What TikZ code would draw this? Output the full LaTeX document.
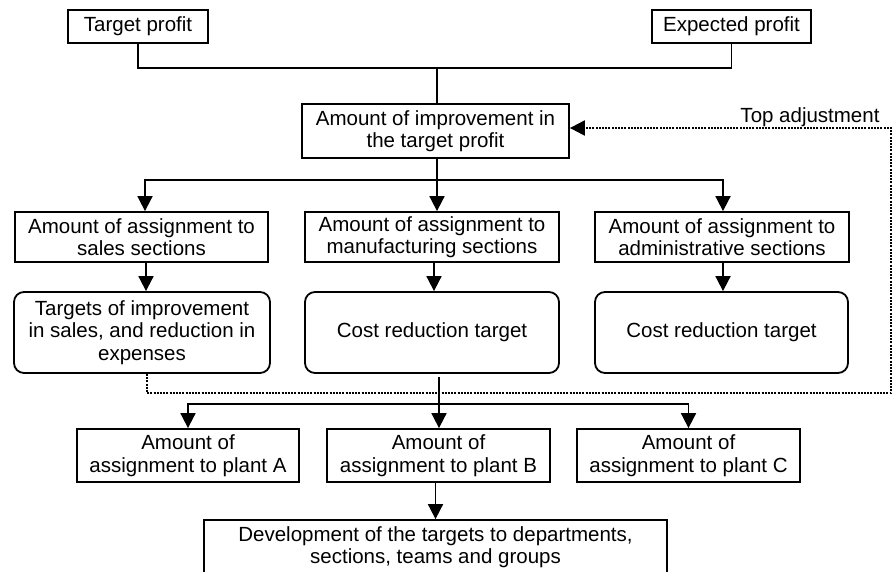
\documentclass[tikz,border=0pt]{standalone}
\usepackage{fontspec}
\setmainfont{Liberation Sans}
\usetikzlibrary{arrows.meta}
\begin{document}
\begin{tikzpicture}[x=1pt,y=-1pt,
  every node/.style={font=\fontsize{20.5pt}{22.5pt}\selectfont, align=center, inner sep=0pt},
  box/.style={draw, line width=1.8pt},
  rbox/.style={draw, line width=1.8pt, rounded corners=10pt},
  conn/.style={line width=1.8pt},
  arr/.style={line width=1.8pt, -{Triangle[length=15pt,width=15pt]}},
  fb/.style={line width=2.2pt, dash pattern=on 2pt off 1.2pt, -{Triangle[length=15pt,width=15pt]}}
]
\clip (0,0) rectangle (894,571);
\fill[white] (0,0) rectangle (894,571);

% top row
\node[box, minimum width=140pt, minimum height=33pt] (tp) at (138,26.5) {Target profit};
\node[box, minimum width=159pt, minimum height=33pt] (ep) at (731.5,26.5) {Expected profit};
\node[box, minimum width=267pt, minimum height=54pt] (imp) at (435.5,131) {Amount of improvement in\\the target profit};
\node[anchor=base] (ta) at (810,122) {Top adjustment};

% second row
\node[box, minimum width=253pt, minimum height=50pt] (sales) at (141.5,237) {Amount of assignment to\\sales sections};
\node[box, minimum width=254pt, minimum height=50pt] (mfg) at (432,237) {Amount of assignment to\\manufacturing sections};
\node[box, minimum width=254pt, minimum height=50pt] (adm) at (722,237) {Amount of assignment to\\administrative sections};

% third row
\node[rbox, minimum width=256pt, minimum height=81pt] (tsales) at (142,332.5) {Targets of improvement\\in sales, and reduction in\\expenses};
\node[rbox, minimum width=254pt, minimum height=81pt] (tmfg) at (432,332.5) {Cost reduction target};
\node[rbox, minimum width=253pt, minimum height=81pt] (tadm) at (721.5,332.5) {Cost reduction target};

% plants
\node[box, minimum width=222pt, minimum height=53pt] (pa) at (188,455.5) {Amount of\\assignment to plant A};
\node[box, minimum width=223pt, minimum height=53pt] (pb) at (438.5,455.5) {Amount of\\assignment to plant B};
\node[box, minimum width=223pt, minimum height=53pt] (pc) at (688.5,455.5) {Amount of\\assignment to plant C};

% bottom
\node[box, minimum width=463pt, minimum height=54pt] (dev) at (435.5,547) {Development of the targets to departments,\\sections, teams and groups};

% connectors top
\coordinate (j1) at (437,68);
\draw[conn] (tp.south) |- (j1) -| (ep.south);
\draw[conn] (j1) -- (j1 |- imp.north);

\coordinate (j2) at (437,180);
\coordinate (a1) at (145,180);
\coordinate (a3) at (723,180);
\draw[conn] (imp.south -| j2) -- (j2);
\draw[arr] (j2) -- (j2 |- mfg.north);
\draw[arr] (j2) -- (a1) -- (a1 |- sales.north);
\draw[arr] (j2) -- (a3) -- (a3 |- adm.north);

% row2 -> row3
\draw[arr] ([xshift=4.5pt]sales.south) -- ([xshift=4.5pt]sales.south |- tsales.north);
\draw[arr] ([xshift=2pt]mfg.south) -- ([xshift=2pt]mfg.south |- tmfg.north);
\draw[arr] ([xshift=1pt]adm.south) -- ([xshift=1pt]adm.south |- tadm.north);

% row3 -> plants
\coordinate (j3) at (439,404);
\draw[arr] ([yshift=-3pt]tmfg.south -| j3) -- (j3 |- pb.north);
\draw[arr] (j3) -| (pa.north);
\draw[arr] (j3) -| (pc.north);

% plant B -> development
\draw[arr] (pb.south -| dev.north) -- (dev.north);

% feedback loop
\coordinate (fb1) at (147,393);
\coordinate (fb2) at (891,393);
\coordinate (fb3) at (891,128);
\draw[fb] (tsales.south -| fb1) -- (fb1) -- (fb2) -- (fb3) -- (fb3 -| imp.east);
\end{tikzpicture}
\end{document}
